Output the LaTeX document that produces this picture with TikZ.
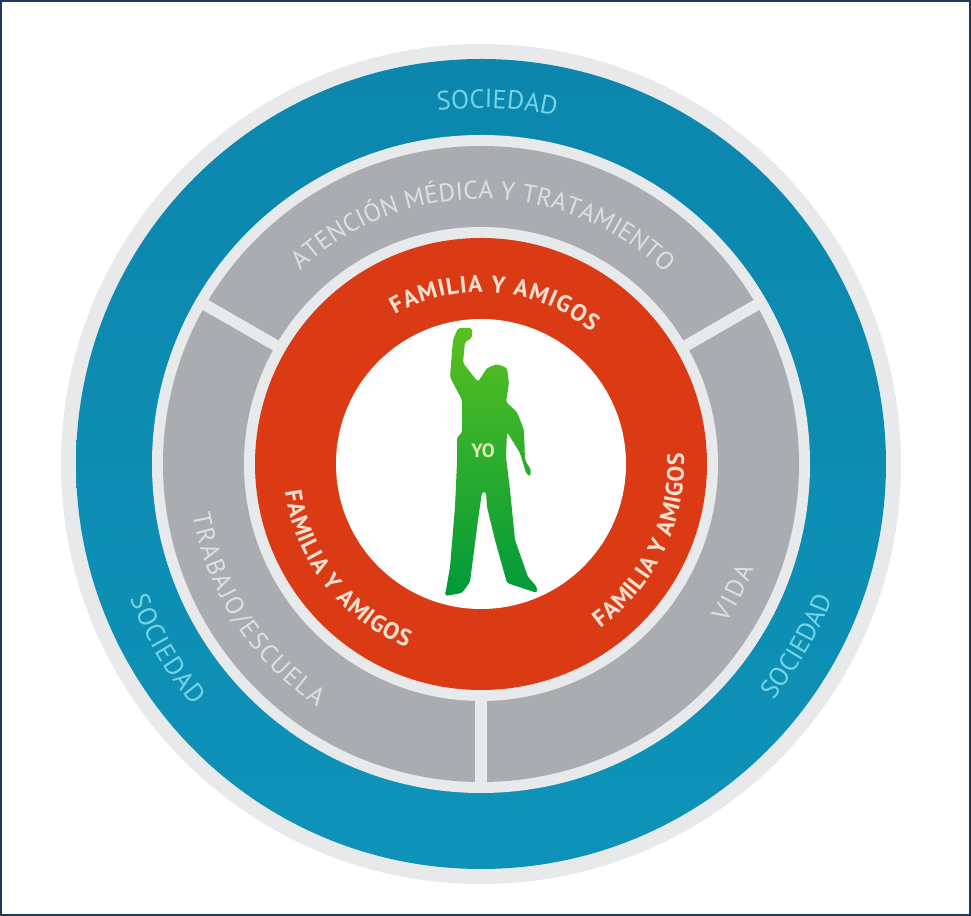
\documentclass[tikz,border=0pt]{standalone}
\usepackage{fontspec}
\setsansfont{PT Sans}
\usetikzlibrary{calc}
\usetikzlibrary{decorations.text}
\definecolor{framecol}{HTML}{1B3A5C}
\definecolor{palering}{HTML}{E8E9EB}
\definecolor{socblue}{HTML}{0C86AD}
\definecolor{socbluelow}{HTML}{0E93B8}
\definecolor{midgray}{HTML}{ABACB1}
\definecolor{famred}{HTML}{DA3A14}
\definecolor{soctext}{HTML}{74D3E4}
\definecolor{graytext}{HTML}{DEDFE2}
\definecolor{famtext}{HTML}{FBE0D0}
\definecolor{yotext}{HTML}{DCEBB0}
\definecolor{yotop}{HTML}{58C020}
\definecolor{yobottom}{HTML}{009A3A}
\tikzset{x=0.02cm, y=0.02cm,
spoke/.style={ % Pale gaps between the gray sectors
draw=palering,
line width=6.5pt},
ringtext/.style={ % Sets the bent labels
decorate,
decoration={text along path,
text align={fit to path},
text={#1}}}}
\newcommand{\bentlabel}[6]{\path[ringtext={|\sffamily\fontsize{#1}{#1}\selectfont\color{#2}|#6}] ($(481,452)+(#4:#3)$) arc[start angle=#4, end angle=#5, radius=#3];}
\newcommand{\boldlabel}[6]{\path[ringtext={|\sffamily\bfseries\fontsize{#1}{#1}\selectfont\color{#2}|#6}] ($(481,452)+(#4:#3)$) arc[start angle=#4, end angle=#5, radius=#3];}
\begin{document}
\begin{tikzpicture}
	\useasboundingbox (0,0) rectangle (971,916);
	\draw[framecol, line width=1.5pt] (1,1) rectangle (970,915);
	\coordinate (yo) at (481,452);
	% rings, outside to inside
	\fill[palering] (yo) circle (420);
	\shade[top color=socblue, bottom color=socbluelow] (yo) circle (405);
	\fill[palering] (yo) circle (329);
	\fill[midgray] (yo) circle (318);
	\draw[spoke] (yo)+(30:232) -- +(30:324);
	\draw[spoke] (yo)+(150:232) -- +(150:324);
	\draw[spoke] (yo)+(270:232) -- +(270:324);
	\fill[palering] (yo) circle (237);
	\fill[famred] (yo) circle (226);
	\fill[white] (yo) circle (145);
	% person
	\shade[top color=yotop, bottom color=yobottom, rounded corners=1.5pt]
		(458,588) -- (472,588) -- (472,578) -- (465,574) -- (463,553) -- (478,534) -- (487,548) -- (497,552)
		-- (507,548) -- (509,533) -- (506,514) -- (517,504) -- (524,486) -- (525,456) -- (531,446) -- (530,439)
		-- (526,443) -- (520,463) -- (507,484) -- (506,459) -- (510,426) -- (515,376) -- (528,339) -- (537,329)
		-- (537,323) -- (507,333) -- (495,376) -- (487,409) -- (486,424) -- (482,424) -- (478,396) -- (470,334)
		-- (462,323) -- (445,320) -- (450,349) -- (455,409) -- (457,453) -- (457,479) -- (462,483) -- (462,516)
		-- (450,539) -- (453,576) -- cycle;
	\node[text=yotext, font=\sffamily\bfseries\fontsize{11}{11}\selectfont] (yolabel) at (483,465) {YO};
	% labels
	\bentlabel{15}{soctext}{356}{97}{79}{SOCIEDAD}
	\bentlabel{15}{soctext}{376}{201}{220}{SOCIEDAD}
	\bentlabel{15}{soctext}{376}{-39}{-21}{SOCIEDAD}
	\bentlabel{14.5}{graytext}{265}{133}{46}{ATENCIÓN MÉDICA Y TRATAMIENTO}
	\bentlabel{14.5}{graytext}{293}{190}{236}{TRABAJO/ESCUELA}
	\bentlabel{14.5}{graytext}{292}{-33}{-21}{VIDA}
	\boldlabel{13.5}{famtext}{172}{120}{50}{FAMILIA Y AMIGOS}
	\boldlabel{13.5}{famtext}{198}{188}{248}{FAMILIA Y AMIGOS}
	\boldlabel{13.5}{famtext}{203}{-54}{3}{FAMILIA Y AMIGOS}
\end{tikzpicture}
\end{document}
